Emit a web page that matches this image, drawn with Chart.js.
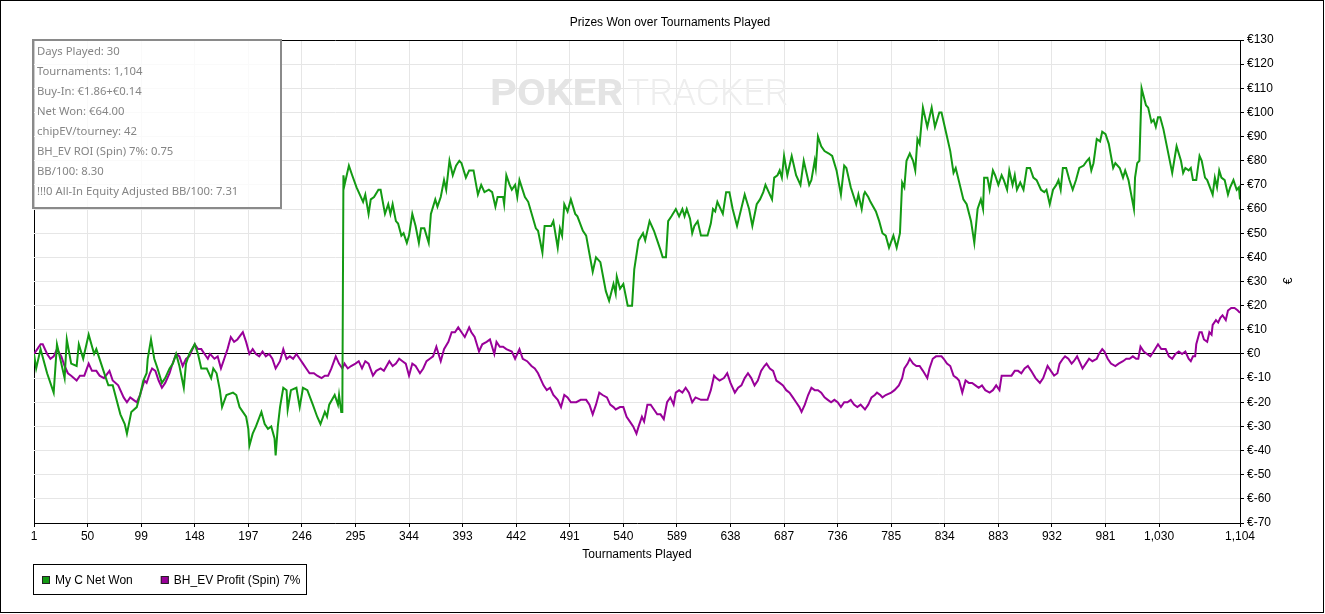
<!DOCTYPE html>
<html>
<head>
<meta charset="utf-8">
<title>Prizes Won over Tournaments Played</title>
<script src="https://cdn.jsdelivr.net/npm/chart.js@4.4.1/dist/chart.umd.min.js"></script>
<style>
  html, body { margin: 0; padding: 0; background: #fff; }
  #wrap { width: 1325px; height: 614px; }
</style>
</head>
<body>
<div id="wrap"><canvas id="prizesChart" width="1325" height="614"></canvas></div>
<script>
// [tournament number, euros] at its turning points
const netWonPoints = [
  [1, 0], [3, -6], [7, 2], [13, -8], [19, -16], [22, 4], [29, -10], [31, 6], [35, -4], [40, -5],
  [42, 4], [46, -2], [51, 8], [56, 0], [58, 2], [66, -9], [69, -13], [73, -13], [80, -25], [84, -29],
  [86, -33], [90, -24], [95, -22], [98, -17], [101, -11], [104, -8], [105, -2], [108, 6], [111, -2], [114, -6],
  [118, -12], [121, -10], [125, -6], [128, -4], [131, 0], [134, -5], [138, -14], [140, -4], [143, 0], [148, 4],
  [151, 0], [154, -6], [159, -6], [163, -10], [165, -6], [168, -8], [171, -15], [173, -22], [177, -17], [183, -16],
  [186, -17], [189, -22], [192, -24], [195, -26], [197, -31], [198, -38], [201, -33], [204, -30], [209, -24], [212, -29],
  [215, -31], [218, -30], [221, -35], [222, -42], [224, -30], [226, -22], [229, -14], [232, -15], [233, -23], [236, -15],
  [241, -14], [244, -22], [247, -14], [251, -15], [256, -21], [260, -26], [263, -29], [267, -24], [269, -26], [271, -21],
  [276, -17], [279, -21], [280, -17], [282, -24], [283, -24],
  [284, 74], [285, 70], [289, 78], [292, 74], [296, 69], [302, 63], [304, 66], [307, 58], [309, 64], [312, 65],
  [316, 68], [318, 68], [322, 58], [325, 62], [327, 58], [329, 62], [332, 55], [334, 54], [337, 49], [339, 50],
  [342, 46], [344, 49], [347, 58], [350, 53], [353, 46], [355, 52], [358, 52], [360, 49], [362, 46], [364, 58],
  [368, 64], [370, 61], [373, 65], [376, 72], [378, 68], [381, 80], [384, 74], [387, 78], [390, 80], [392, 79],
  [396, 73], [399, 76], [403, 76], [407, 66], [410, 70], [413, 67], [417, 68], [420, 67], [423, 61], [425, 65],
  [430, 65], [431, 62], [433, 74], [436, 70], [438, 68], [441, 70], [443, 65], [445, 72], [450, 65], [453, 63],
  [460, 52], [462, 51], [466, 42], [468, 53], [474, 53], [476, 55], [480, 44], [482, 52], [484, 49], [486, 62],
  [489, 59], [492, 64], [496, 58], [498, 57], [503, 51], [506, 49], [512, 34], [515, 40], [519, 38], [524, 26],
  [527, 22], [531, 29], [533, 25], [534, 32], [537, 27], [540, 29], [544, 20], [548, 20], [550, 35], [554, 47],
  [558, 50], [560, 47], [564, 55], [568, 51], [571, 47], [574, 43], [576, 40], [579, 40], [581, 55], [584, 57],
  [588, 60], [591, 57], [594, 60], [596, 57], [598, 60], [601, 56], [603, 50], [605, 53], [608, 55], [611, 49],
  [617, 49], [620, 54], [622, 60], [624, 59], [626, 63], [628, 61], [631, 58], [634, 67], [637, 67], [640, 60],
  [644, 53], [651, 66], [655, 60], [658, 53], [662, 62], [665, 64], [668, 67], [670, 70], [673, 67], [676, 64],
  [678, 73], [681, 74], [683, 76], [685, 73], [687, 82], [690, 74], [694, 82], [698, 74], [702, 70], [705, 80],
  [708, 74], [710, 70], [712, 72], [715, 80], [716, 77], [718, 90], [721, 86], [724, 84], [728, 83], [731, 82],
  [735, 76], [739, 66], [742, 78], [744, 77], [748, 69], [753, 62], [755, 66], [758, 60], [760, 66], [761, 67],
  [764, 65], [766, 63], [771, 59], [774, 55], [777, 50], [780, 49], [783, 44], [787, 49], [790, 44], [793, 50],
  [795, 71], [797, 69], [799, 80], [802, 83], [805, 80], [807, 76], [809, 89], [811, 87], [814, 102], [818, 94],
  [822, 102], [825, 94], [829, 100], [831, 100], [835, 92], [839, 84], [842, 75], [844, 77], [851, 64], [854, 62],
  [858, 55], [861, 46], [864, 60], [867, 64], [869, 60], [870, 73], [873, 73], [875, 68], [878, 76], [880, 74],
  [883, 70], [886, 74], [888, 72], [891, 68], [893, 76], [896, 70], [898, 74], [900, 68], [903, 71], [906, 68],
  [909, 77], [912, 77], [915, 73], [918, 72], [922, 68], [925, 67], [927, 68], [930, 62], [933, 68], [936, 70],
  [938, 72], [940, 68], [942, 77], [945, 77], [948, 72], [951, 68], [954, 72], [957, 77], [961, 78], [964, 80],
  [966, 81], [968, 76], [970, 79], [973, 89], [976, 88], [978, 92], [981, 91], [984, 87], [988, 77], [990, 79],
  [994, 77], [997, 73], [999, 76], [1002, 72], [1007, 60], [1008, 73], [1010, 79], [1012, 80], [1014, 110], [1018, 103],
  [1020, 102], [1023, 96], [1025, 97], [1027, 94], [1029, 98], [1031, 98], [1034, 93], [1038, 84], [1042, 75], [1046, 86],
  [1050, 80], [1052, 75], [1054, 77], [1057, 76], [1059, 77], [1061, 72], [1064, 72], [1067, 82], [1069, 80], [1072, 73],
  [1074, 72], [1079, 66], [1081, 73], [1083, 69], [1085, 76], [1087, 73], [1090, 72], [1093, 66], [1095, 69], [1098, 72],
  [1101, 68], [1103, 69], [1104, 64]
];

const evProfitPoints = [
  [1, 0], [4, 2], [7, 4], [9, 4], [13, 0], [16, -2], [19, -1], [22, 2], [26, -1], [29, -5],
  [32, -8], [35, -9], [40, -11], [43, -9], [47, -9], [51, -4], [54, -7], [58, -7], [61, -9], [65, -10],
  [70, -7], [73, -11], [78, -13], [83, -18], [86, -20], [89, -18], [92, -19], [95, -20], [98, -17], [102, -11],
  [104, -12], [107, -8], [109, -6], [112, -7], [115, -11], [118, -14], [121, -12], [125, -8], [127, -5], [131, 0],
  [134, -1], [137, -5], [140, -2], [143, -1], [146, 2], [148, 4], [151, 2], [154, 2], [157, 0], [160, -2],
  [162, 0], [166, -2], [169, -1], [172, -6], [175, -2], [178, 2], [181, 7], [184, 5], [187, 6], [192, 9],
  [195, 5], [198, 0], [201, 2], [204, 0], [207, -1], [210, 1], [213, -1], [216, 0], [219, -2], [222, -6],
  [226, -3], [229, 2], [232, -2], [235, -1], [238, -2], [241, 0], [244, -2], [247, -4], [250, -6], [253, -8],
  [257, -8], [260, -9], [264, -10], [267, -9], [270, -9], [273, -6], [277, -1], [280, -4], [283, -6], [285, -4],
  [288, -6], [291, -5], [295, -4], [298, -3], [301, -6], [304, -3], [307, -4], [311, -9], [314, -7], [318, -6],
  [321, -7], [326, -3], [329, -5], [332, -4], [335, -2], [338, -3], [341, -4], [344, -9], [347, -4], [350, -5],
  [354, -8], [357, -6], [360, -3], [363, -2], [366, -1], [369, 3], [371, 0], [373, -3], [376, 2], [380, 5],
  [383, 9], [386, 9], [389, 11], [392, 9], [395, 7], [399, 11], [401, 9], [404, 7], [408, 1], [411, 4],
  [415, 5], [418, 6], [420, 3], [422, 0], [424, 5], [427, 3], [430, 3], [433, 2], [438, 1], [441, -2],
  [445, 2], [448, -2], [452, -3], [456, -5], [459, -6], [462, -8], [467, -13], [470, -15], [473, -14], [476, -17],
  [480, -19], [483, -22], [486, -17], [489, -18], [492, -20], [497, -20], [501, -19], [506, -19], [509, -21], [512, -25],
  [515, -21], [518, -16], [521, -17], [525, -18], [528, -21], [531, -22], [533, -23], [537, -22], [540, -22], [543, -26],
  [546, -28], [549, -30], [552, -33], [554, -30], [557, -26], [559, -28], [562, -21], [565, -21], [568, -23], [571, -25],
  [574, -25], [577, -27], [580, -20], [583, -18], [586, -21], [588, -16], [591, -15], [594, -16], [597, -14], [600, -16],
  [603, -20], [606, -18], [611, -19], [614, -19], [617, -19], [620, -15], [623, -9], [625, -10], [628, -11], [632, -10],
  [635, -8], [638, -12], [642, -16], [645, -14], [648, -13], [651, -10], [654, -8], [657, -10], [660, -13], [663, -11],
  [666, -7], [669, -5], [671, -4], [674, -6], [677, -7], [680, -11], [683, -12], [686, -13], [689, -15], [692, -16],
  [695, -18], [698, -20], [701, -22], [703, -24], [706, -21], [709, -17], [712, -14], [715, -15], [718, -15], [721, -16],
  [724, -18], [727, -19], [730, -20], [733, -19], [736, -20], [739, -22], [742, -20], [745, -20], [748, -19], [751, -21],
  [754, -22], [757, -21], [761, -23], [764, -21], [767, -18], [770, -17], [772, -16], [775, -17], [777, -18], [780, -17],
  [785, -16], [788, -15], [792, -13], [795, -10], [797, -6], [800, -4], [802, -2], [805, -4], [808, -5], [811, -5],
  [814, -7], [818, -10], [820, -6], [823, -2], [826, -1], [829, -1], [831, -1], [833, -2], [836, -4], [839, -5],
  [842, -9], [845, -10], [847, -11], [850, -16], [853, -11], [856, -12], [859, -12], [862, -13], [865, -14], [868, -13],
  [871, -15], [875, -16], [878, -15], [881, -13], [884, -15], [886, -9], [889, -9], [892, -9], [895, -9], [898, -7],
  [901, -7], [904, -8], [907, -6], [910, -5], [913, -7], [917, -10], [921, -12], [924, -10], [928, -5], [931, -7],
  [934, -9], [937, -8], [939, -4], [942, -2], [944, -1], [947, -2], [950, -4], [952, -3], [955, -1], [957, -3],
  [960, -6], [963, -4], [966, -2], [969, -3], [973, -2], [975, 0], [978, 2], [980, 1], [983, -2], [986, -4],
  [990, -5], [993, -4], [997, -3], [1000, -2], [1003, -2], [1006, -1], [1009, -2], [1011, -2], [1013, 3], [1016, 1],
  [1019, 0], [1022, -1], [1025, 1], [1029, 4], [1032, 2], [1036, 2], [1039, -1], [1042, -2], [1045, 0], [1048, 1],
  [1051, 0], [1054, 1], [1057, -2], [1059, -3], [1061, -1], [1063, -1], [1064, 4], [1067, 9], [1069, 9], [1071, 6],
  [1074, 5], [1076, 9], [1078, 8], [1079, 12], [1082, 14], [1084, 13], [1086, 15], [1088, 16], [1091, 14], [1093, 18],
  [1096, 19], [1099, 19], [1102, 18], [1104, 17]
];

const xTicks = [1, 50, 99, 148, 197, 246, 295, 344, 393, 442, 491, 540, 589, 638, 687, 736, 785, 834, 883, 932, 981, 1030, 1104];
const yMin = -70;
const yMax = 130;
const yStep = 10;

const infoLines = [
  "Days Played: 30",
  "Tournaments: 1,104",
  "Buy-In: €1.86+€0.14",
  "Net Won: €64.00",
  "chipEV/tourney: 42",
  "BH_EV ROI (Spin) 7%: 0.75",
  "BB/100: 8.30",
  "!!!0 All-In Equity Adjusted BB/100: 7.31"
];

const GREEN = "#139a13";
const PURPLE = "#990099";
const GRID = "#e6e6e6";
const axisFont = { family: "'Liberation Sans', Arial, sans-serif", size: 12 };

const toXY = (pts) => pts.map(([x, y]) => ({ x, y }));

const decorations = {
  id: "decorations",
  beforeDraw(chart) {
    const { ctx, width, height } = chart;
    ctx.save();
    ctx.fillStyle = "#fff";
    ctx.fillRect(0, 0, width, height);
    ctx.restore();
  },
  beforeDatasetsDraw(chart) {
    // faded brand mark behind the lines
    const { ctx } = chart;
    ctx.save();
    ctx.textBaseline = "alphabetic";
    ctx.font = "bold 37px Roboto";
    ctx.fillStyle = "#e4e4e4";
    let w = ctx.measureText("POKER").width;
    ctx.translate(490, 105);
    ctx.scale(133 / w, 1);
    ctx.fillText("POKER", 0, 0);
    ctx.restore();
    ctx.save();
    ctx.font = "300 37px Roboto";
    ctx.fillStyle = "#eeeeee";
    w = ctx.measureText("TRACKER").width;
    ctx.translate(627, 105);
    ctx.scale(161 / w, 1);
    ctx.fillText("TRACKER", 0, 0);
    ctx.restore();
  },
  afterDraw(chart) {
    const { ctx, width, height } = chart;
    ctx.save();

    // outer frame
    ctx.strokeStyle = "#000";
    ctx.lineWidth = 1;
    ctx.strokeRect(0.5, 0.5, width - 2, height - 2);

    // chart title
    ctx.fillStyle = "#000";
    ctx.font = "12px 'Liberation Sans', Arial, sans-serif";
    ctx.textAlign = "center";
    ctx.textBaseline = "middle";
    ctx.fillText("Prizes Won over Tournaments Played", 670, 23);

    // y axis title, reads bottom to top
    ctx.save();
    ctx.translate(1289, 281);
    ctx.rotate(-Math.PI / 2);
    ctx.fillText("€", 0, 0);
    ctx.restore();

    // stats box
    ctx.fillStyle = "rgba(255,255,255,0.8)";
    ctx.fillRect(33, 40, 248, 168);
    ctx.strokeStyle = "#8a8a8a";
    ctx.lineWidth = 2;
    ctx.strokeRect(33, 40, 248, 168);
    ctx.fillStyle = "#858585";
    ctx.font = "11.3px 'Noto Sans', sans-serif";
    ctx.textAlign = "left";
    infoLines.forEach((line, i) => ctx.fillText(line, 37, 52 + i * 20));

    // legend
    ctx.strokeStyle = "#000";
    ctx.lineWidth = 1;
    ctx.strokeRect(33.5, 564.5, 273, 30);
    ctx.font = "12px 'Liberation Sans', Arial, sans-serif";
    let x = 42;
    chart.data.datasets.forEach((ds) => {
      ctx.fillStyle = ds.borderColor;
      ctx.fillRect(x, 576, 8, 8);
      ctx.strokeStyle = "#222";
      ctx.strokeRect(x + 0.5, 576.5, 7, 7);
      ctx.fillStyle = "#000";
      ctx.fillText(ds.label, x + 13, 581);
      x += 13 + ctx.measureText(ds.label).width + 28;
    });

    ctx.restore();
  }
};

new Chart(document.getElementById("prizesChart"), {
  type: "line",
  data: {
    datasets: [
      {
        label: "My C Net Won",
        data: toXY(netWonPoints),
        borderColor: GREEN,
        backgroundColor: GREEN,
        borderWidth: 2,
        pointRadius: 0,
        tension: 0,
      },
      {
        label: "BH_EV Profit (Spin) 7%",
        data: toXY(evProfitPoints),
        borderColor: PURPLE,
        backgroundColor: PURPLE,
        borderWidth: 2,
        pointRadius: 0,
        tension: 0,
      },
    ],
  },
  options: {
    responsive: false,
    animation: false,
    devicePixelRatio: 1,
    layout: { padding: { left: 34, top: 40, right: 25, bottom: 51 } },
    plugins: {
      legend: { display: false },
      title: { display: false },
      tooltip: { enabled: false },
    },
    scales: {
      x: {
        type: "linear",
        min: 1,
        max: 1104,
        afterBuildTicks: (scale) => {
          scale.ticks = xTicks.map((v) => ({ value: v }));
        },
        afterFit: (scale) => {
          scale.height = 40;
        },
        ticks: {
          color: "#000",
          font: axisFont,
          padding: 2,
          maxRotation: 0,
          autoSkip: false,
          callback: (v) => Number(v).toLocaleString("en-US"),
        },
        grid: {
          color: (c) => (c.tick && c.tick.value === 1 ? "#000" : GRID),
          tickColor: "#000",
          tickLength: 4,
        },
        border: { color: "#000" },
        title: {
          display: true,
          text: "Tournaments Played",
          color: "#000",
          font: axisFont,
          padding: { top: 0, bottom: 1 },
        },
      },
      y: {
        position: "right",
        min: yMin,
        max: yMax,
        afterFit: (scale) => {
          scale.width = 60;
        },
        ticks: {
          stepSize: yStep,
          color: "#000",
          font: axisFont,
          padding: 3,
          autoSkip: false,
          callback: (v) => "€" + v,
        },
        grid: {
          color: (c) =>
            c.tick && (c.tick.value === 0 || c.tick.value === yMax) ? "#000" : GRID,
          tickColor: "#000",
          tickLength: 4,
        },
        border: { color: "#000" },
      },
    },
  },
  plugins: [decorations],
});
</script>
</body>
</html>
